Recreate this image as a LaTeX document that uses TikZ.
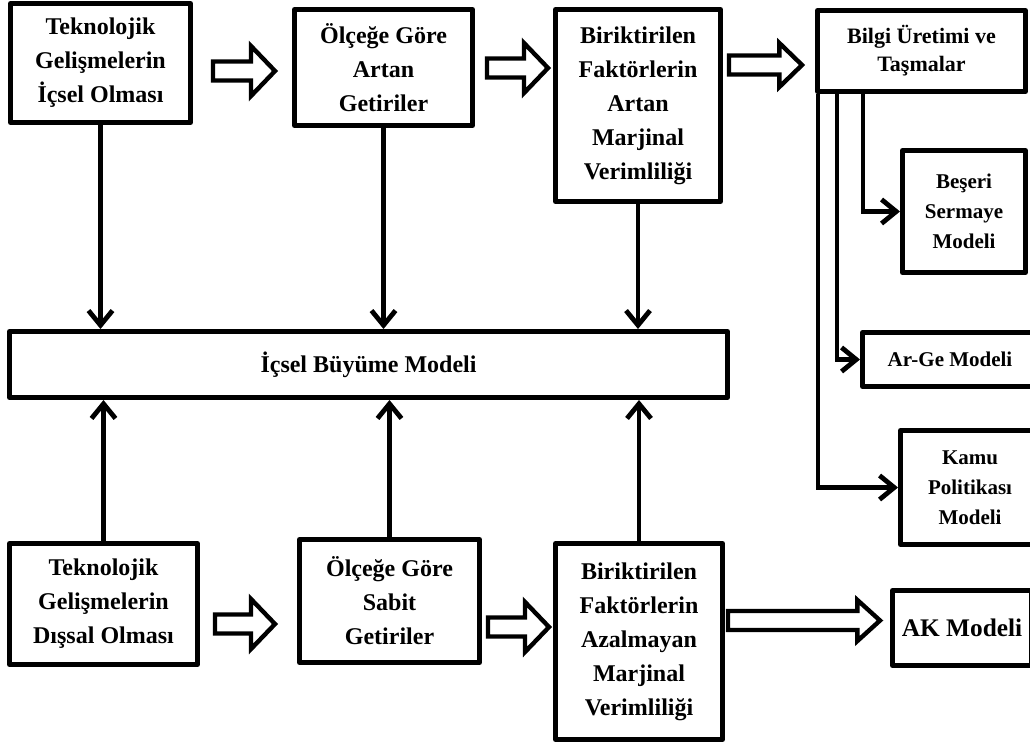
\documentclass[tikz,border=0pt]{standalone}
\usepackage{fontspec}
\setmainfont{Liberation Serif}
\usetikzlibrary{arrows.meta,calc}

\tikzset{
  box/.style={draw, line width=3.6pt, line join=round, fill=white, inner sep=0pt,
    align=center, font=\bfseries\fontsize{18}{25.5}\selectfont},
  sidebox/.style={box, font=\bfseries\fontsize{15.75}{22.5}\selectfont},
  conn/.style={line width=3.6pt, -{Straight Barb[length=11pt,width=18pt]}},
  bshaft/.store in=\bshaft, bhead/.store in=\bhead, blen/.store in=\blen,
  bshaft=7.1pt, bhead=18.75pt, blen=18pt,
  hollow/.style={draw, line width=3.3pt, line join=miter, fill=white,
    to path={let \p1=(\tikztostart), \p2=(\tikztotarget) in
      (\x1,\y1+\bshaft) -- (\x2-\blen,\y1+\bshaft) -- (\x2-\blen,\y1+\bhead)
      -- (\x2,\y1) -- (\x2-\blen,\y1-\bhead) -- (\x2-\blen,\y1-\bshaft)
      -- (\x1,\y1-\bshaft) -- cycle}}
}

\begin{document}
\begin{tikzpicture}[x=0.75pt,y=-0.75pt]
\useasboundingbox (0,0) rectangle (1030,747);
\clip (0,0) rectangle (1030,747);
\fill[white] (0,0) rectangle (1030,747);

% top row
\node[box, minimum width=135.15pt, minimum height=89.4pt] (ti) at (100.5,63)
  {Teknolojik\\Gelişmelerin\\İçsel Olması};
\node[box, minimum width=133.65pt, minimum height=87.15pt] (oga) at (383.5,67.5)
  {Ölçeğe Göre\\Artan\\Getiriler};
\node[box, minimum width=123.9pt, minimum height=144.15pt] (bfa) at (638,105.5)
  {Biriktirilen\\Faktörlerin\\Artan\\Marjinal\\Verimliliği};
\node[sidebox, font=\bfseries\fontsize{16.5}{21}\selectfont,
  minimum width=156.15pt, minimum height=60.9pt] (bilgi) at (921.5,51)
  {Bilgi Üretimi ve\\Taşmalar};

% right column
\node[sidebox, minimum width=92.4pt, minimum height=91.65pt] (beseri) at (964,211.5)
  {Beşeri\\Sermaye\\Modeli};
\node[sidebox, minimum width=131.4pt, minimum height=40.65pt] (arge) at (950,359.5)
  {Ar-Ge Modeli};
\node[sidebox, minimum width=104.4pt, minimum height=85.65pt] (kamu) at (970,487.5)
  {Kamu\\Politikası\\Modeli};

% middle
\node[box, font=\bfseries\fontsize{18}{20}\selectfont,
  minimum width=538.65pt, minimum height=49.65pt] (ib) at (368.5,364.5)
  {İçsel Büyüme Modeli};

% bottom row
\node[box, minimum width=141.15pt, minimum height=90.9pt] (td) at (103.5,604)
  {Teknolojik\\Gelişmelerin\\Dışsal Olması};
\node[box, minimum width=135.15pt, minimum height=92.4pt] (ogs) at (389.5,601)
  {Ölçeğe Göre\\Sabit\\Getiriler};
\node[box, minimum width=125.4pt, minimum height=147.15pt] (bfz) at (639,641.5)
  {Biriktirilen\\Faktörlerin\\Azalmayan\\Marjinal\\Verimliliği};
\node[box, font=\bfseries\fontsize{19}{22}\selectfont,
  minimum width=104.4pt, minimum height=56.4pt] (ak) at (962,628)
  {AK Modeli};

% vertical links into the central model
\draw[conn] (ti.south) -- (ti.south |- ib.north);
\draw[conn] (oga.south) -- (oga.south |- ib.north);
\draw[conn] (bfa.south) -- (bfa.south |- ib.north);
\draw[conn] (td.north) -- (td.north |- ib.south);
\draw[conn] (ogs.north) -- (ogs.north |- ib.south);
\draw[conn] (bfz.north) -- (bfz.north |- ib.south);

% branches from knowledge production
\coordinate (b1) at ($(bilgi.south west)+(3,0)$);
\coordinate (b2) at ($(bilgi.south west)+(22,0)$);
\coordinate (b3) at ($(bilgi.south west)+(48,0)$);
\draw[conn] (b1) |- (kamu.west);
\draw[conn] (b2) |- (arge.west);
\draw[conn] (b3) |- (beseri.west);

% hollow block arrows
\draw[hollow] ($(ti.east |- 0,71)+(20,0)$) to ($(oga.west |- 0,71)+(-17,0)$);
\draw[hollow] ($(oga.east |- 0,68)+(12,0)$) to ($(bfa.west |- 0,68)+(-5,0)$);
\draw[hollow, bhead=16.5pt, blen=17pt] ($(bfa.east |- 0,65)+(6,0)$) to ($(bilgi.west |- 0,65)+(-13,0)$);
\draw[hollow] ($(td.east |- 0,624)+(15,0)$) to ($(ogs.west |- 0,624)+(-22,0)$);
\draw[hollow] ($(ogs.east |- 0,627)+(6,0)$) to ($(bfz.west |- 0,627)+(-4,0)$);
\draw[hollow, bhead=15.4pt, blen=17pt] ($(bfz.east |- 0,620.5)+(3,0)$) to ($(ak.west |- 0,620.5)+(-10,0)$);
\end{tikzpicture}
\end{document}
